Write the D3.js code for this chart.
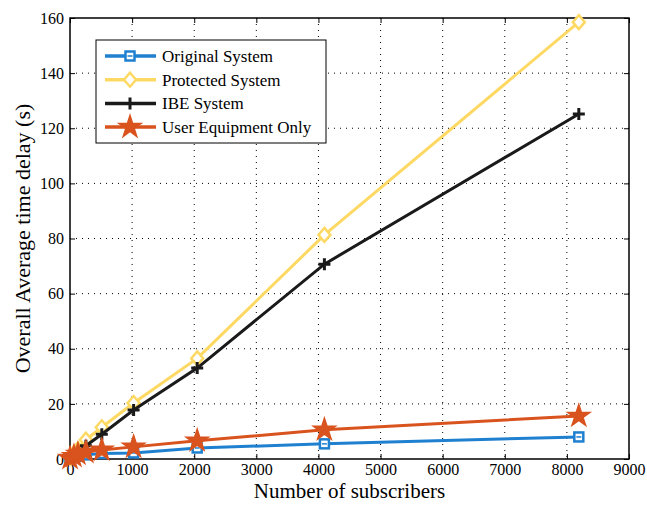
<html>
<head>
<meta charset="UTF-8">
<title>Delay</title>
<style>
  body { margin: 0; background: #fff; }
  svg text { font-family: "Liberation Serif", "Times New Roman", serif; }
</style>
</head>
<body>
<script src="https://d3js.org/d3.v7.min.js"></script>
<div id="chart"></div>
<script>
// subscriber counts and delays (s)
var subscribers = [1, 64, 128, 256, 512, 1024, 2048, 4096, 8192];
var originalSys = [0.2, 0.5, 1, 1.5, 2, 2.2, 4, 5.5, 8];
var protectedSys = [0.5, 2, 3.5, 7, 11.5, 20.3, 36.5, 81.3, 158.5];
var ibeSys = [0.4, 1.5, 2.5, 4.8, 9, 17.8, 33, 70.7, 125.2];
var ueOnly = [0.3, 1, 1.8, 2.5, 3.3, 4.4, 6.6, 10.6, 15.6];
var xTicks = d3.range(0, 9001, 1000);
var yTicks = d3.range(0, 161, 20);

var series = [
  {name: "Original System", vals: originalSys, color: "#1f80d0", marker: "square"},
  {name: "Protected System", vals: protectedSys, color: "#fdd963", marker: "diamond"},
  {name: "IBE System", vals: ibeSys, color: "#1a1a1a", marker: "plus"},
  {name: "User Equipment Only", vals: ueOnly, color: "#d9531e", marker: "star"}
];

var serif = "'Liberation Serif', 'Times New Roman', serif";
var W = 647, H = 505;
var margin = {top: 18, right: 18, bottom: 46, left: 70};
var width = W - margin.left - margin.right,
    height = H - margin.top - margin.bottom;

var svg = d3.select("#chart").append("svg")
    .attr("width", W).attr("height", H);
var g = svg.append("g")
    .attr("transform", `translate(${margin.left},${margin.top})`);

var x = d3.scaleLinear().domain([0, 9000]).range([0, width]);
var y = d3.scaleLinear().domain([0, 160]).range([height, 0]);

// grid
g.selectAll(".vgrid").data(xTicks.slice(1, -1)).enter().append("line")
    .attr("x1", d => x(d)).attr("x2", d => x(d))
    .attr("y1", 0).attr("y2", height)
    .attr("stroke", "#000").attr("stroke-width", 1).attr("stroke-dasharray", "1,5");
g.selectAll(".hgrid").data(yTicks.slice(1, -1)).enter().append("line")
    .attr("x1", 0).attr("x2", width)
    .attr("y1", d => y(d)).attr("y2", d => y(d))
    .attr("stroke", "#000").attr("stroke-width", 1).attr("stroke-dasharray", "1,5");

// axes with inward ticks
function styleAxis(sel) {
  sel.attr("font-family", serif);
  sel.select(".domain").remove();
  sel.selectAll("line").attr("stroke", "#000");
  sel.selectAll("text").style("font-family", serif).style("font-size", "16px").attr("fill", "#000");
}
g.append("g").attr("transform", `translate(0,${height})`)
    .call(d3.axisBottom(x).tickValues(xTicks).tickFormat(d3.format("d"))
      .tickSizeInner(-5).tickSizeOuter(0).tickPadding(5))
    .call(styleAxis);
g.append("g")
    .call(d3.axisLeft(y).tickValues(yTicks).tickFormat(d3.format("d"))
      .tickSizeInner(-5).tickSizeOuter(0).tickPadding(6))
    .call(styleAxis);
g.append("g")
    .call(d3.axisTop(x).tickValues(xTicks).tickSizeInner(-5).tickSizeOuter(0).tickFormat(""))
    .call(styleAxis);
g.append("g").attr("transform", `translate(${width},0)`)
    .call(d3.axisRight(y).tickValues(yTicks).tickSizeInner(-5).tickSizeOuter(0).tickFormat(""))
    .call(styleAxis);

g.append("rect").attr("width", width).attr("height", height)
    .attr("fill", "none").attr("stroke", "#000").attr("stroke-width", 1.5);

// markers
function drawMarker(sel, type, color) {
  if (type === "square") {
    sel.append("rect").attr("x", -4.5).attr("y", -4.5).attr("width", 9).attr("height", 9)
      .attr("fill", "#fff").attr("stroke", color).attr("stroke-width", 2.5);
    sel.append("line").attr("x1", -2.5).attr("x2", 2.5).attr("stroke", color).attr("stroke-width", 1.5);
  } else if (type === "diamond") {
    sel.append("path").attr("d", "M0,-7L6,0L0,7L-6,0Z")
      .attr("fill", "#fff").attr("stroke", color).attr("stroke-width", 2.5);
  } else if (type === "plus") {
    sel.append("path").attr("d", "M-6,0H6M0,-6V6")
      .attr("stroke", color).attr("stroke-width", 3);
  } else if (type === "star") {
    sel.append("path").attr("d", d3.symbol(d3.symbolStar, 150)())
      .attr("fill", color).attr("stroke", color).attr("stroke-width", 1.5);
  }
}

var line = d3.line().x(d => x(d[0])).y(d => y(d[1]));

series.forEach(function(s) {
  var pts = subscribers.map((v, i) => [v, s.vals[i]]);
  g.append("path").datum(pts)
    .attr("d", line).attr("fill", "none")
    .attr("stroke", s.color).attr("stroke-width", 3);
  pts.forEach(function(p) {
    var m = g.append("g").attr("transform", `translate(${x(p[0])},${y(p[1])})`);
    drawMarker(m, s.marker, s.color);
  });
});

// legend
var leg = svg.append("g").attr("transform", "translate(96,40)");
leg.append("rect").attr("width", 230).attr("height", 103)
    .attr("fill", "#fff").attr("stroke", "#000").attr("stroke-width", 1);
series.forEach(function(s, i) {
  var row = leg.append("g").attr("transform", `translate(0,${16 + i * 23.7})`);
  row.append("line").attr("x1", 9).attr("x2", 60)
    .attr("stroke", s.color).attr("stroke-width", 3.5);
  var m = row.append("g").attr("transform", "translate(34,0)");
  drawMarker(m, s.marker, s.color);
  row.append("text").attr("x", 66).attr("y", 6)
    .style("font-family", serif).style("font-size", "17px").text(s.name);
});

// axis titles
svg.append("text").attr("x", margin.left + width / 2).attr("y", H - 7)
    .attr("text-anchor", "middle").style("font-family", serif).style("font-size", "21px")
    .text("Number of subscribers");
svg.append("text")
    .attr("transform", `translate(30,${margin.top + height / 2}) rotate(-90)`)
    .attr("text-anchor", "middle").style("font-family", serif).style("font-size", "22px")
    .text("Overall Average time delay (s)");
</script>
</body>
</html>
